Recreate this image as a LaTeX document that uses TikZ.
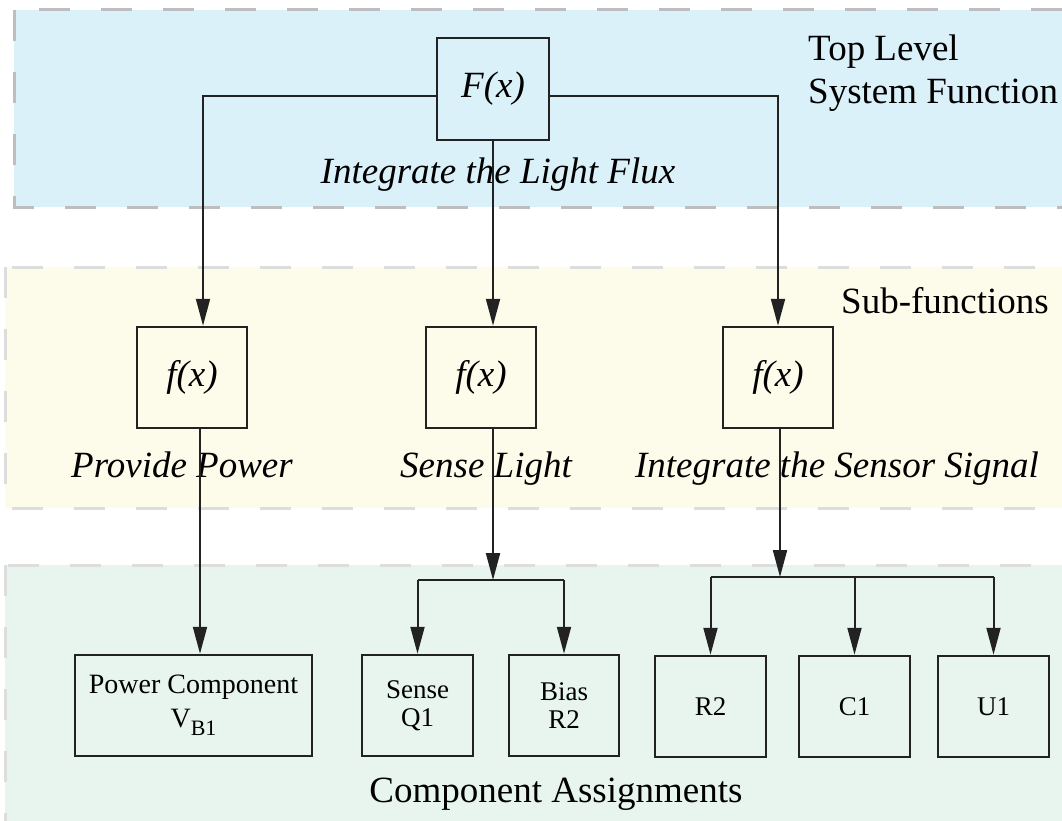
\documentclass[tikz,border=0pt]{standalone}
\usepackage{fontspec}
\setmainfont{Liberation Serif}
\usetikzlibrary{arrows.meta}
\definecolor{bandblue}{HTML}{DBF1FA}
\definecolor{bandyellow}{HTML}{FDFCEA}
\definecolor{bandgreen}{HTML}{E8F5EE}
\definecolor{bandedge}{HTML}{BEBEBE}
\definecolor{bandedgelight}{HTML}{DDDDDD}
\definecolor{ink}{HTML}{222222}
\begin{document}
\begin{tikzpicture}[x=1pt,y=-1pt,
  band/.style={line width=3pt, dash pattern=on 31pt off 31pt},
  box/.style={draw=ink, line width=2.5pt, inner sep=0pt, align=center},
  fbox/.style={box, minimum width=110pt, minimum height=101pt, font=\fontsize{37}{40}\selectfont\itshape},
  cbox/.style={box, minimum height=101pt, font=\fontsize{27}{28}\selectfont},
  conn/.style={line width=2pt, draw=ink},
  arr/.style={conn, -{Triangle[length=27pt,width=14pt]}},
  biglabel/.style={anchor=base, inner sep=0pt, font=\fontsize{37}{44}\selectfont},
  itlabel/.style={biglabel, font=\fontsize{37}{44}\selectfont\itshape}
]
\useasboundingbox (0,0) rectangle (1062,821);
\clip (0,0) rectangle (1062,821);
\fill[white] (0,0) rectangle (1062,821);

% bands
\draw[band, draw=bandedge, fill=bandblue] (14,10) rectangle (1085,207);
\draw[band, draw=bandedgelight, fill=bandyellow] (5,267) rectangle (1085,508);
\draw[band, draw=bandedgelight, fill=bandgreen] (5,565) rectangle (1085,835);

% band titles
\node[biglabel, anchor=base west] (t1) at (808,61) {Top Level};
\node[biglabel, anchor=base west] (t2) at (808,104) {System Function};
\node[biglabel] (t3) at (945,313) {Sub-functions};
\node[biglabel] (t4) at (556,802) {Component Assignments};

% function boxes
\node[fbox, minimum width=112pt, minimum height=102pt] (F) at (493,89) {F(x)};
\node[fbox] (f1) at (192,377.5) {f(x)};
\node[fbox] (f2) at (481,377.5) {f(x)};
\node[fbox] (f3) at (778,377.5) {f(x)};

% function labels
\node[itlabel] (lF) at (498,183) {Integrate the Light Flux};
\node[itlabel] (l1) at (182,477) {Provide Power};
\node[itlabel] (l2) at (486,477) {Sense Light};
\node[itlabel] (l3) at (837,477) {Integrate the Sensor Signal};

% component boxes
\node[cbox, minimum width=237pt, font=\fontsize{28}{34}\selectfont] (pc) at (193.5,705.5)
  {Power Component\\V\raisebox{-8pt}{\fontsize{22}{22}\selectfont B1}};
\node[cbox, minimum width=111pt] (sq) at (417.5,705.5) {Sense\\Q1};
\node[cbox, minimum width=110pt] (br) at (564,705.5) {Bias\\R2};
\node[cbox, minimum width=111pt] (r2) at (710.5,706.5) {R2};
\node[cbox, minimum width=111pt] (c1) at (854.5,706.5) {C1};
\node[cbox, minimum width=111pt] (u1) at (993.5,706.5) {U1};

% junction points
\coordinate (jl) at (203,96);
\coordinate (jr) at (778,96);
\coordinate (js) at (493,580);
\coordinate (ji) at (780,577);

% top level connectors
\draw[arr] ([yshift=-7pt]F.west) -- (jl) -- (jl |- f1.north);
\draw[arr] ([yshift=-7pt]F.east) -- (jr) -- (jr |- f3.north);
\draw[arr] (F.south) -- (F.south |- f2.north);

% sub-function connectors
\draw[arr] ([xshift=8pt]f1.south) -- ([xshift=8pt]f1.south |- pc.north);
\draw[arr] (js |- f2.south) -- (js);
\draw[arr] (ji |- f3.south) -- (ji);

% branches
\draw[conn] (sq.north |- js) -- (br.north |- js);
\draw[arr] (sq.north |- js) -- (sq.north);
\draw[arr] (br.north |- js) -- (br.north);
\draw[conn] (r2.north |- ji) -- (u1.north |- ji);
\draw[arr] (r2.north |- ji) -- (r2.north);
\draw[arr] (c1.north |- ji) -- (c1.north);
\draw[arr] (u1.north |- ji) -- (u1.north);
\end{tikzpicture}
\end{document}
